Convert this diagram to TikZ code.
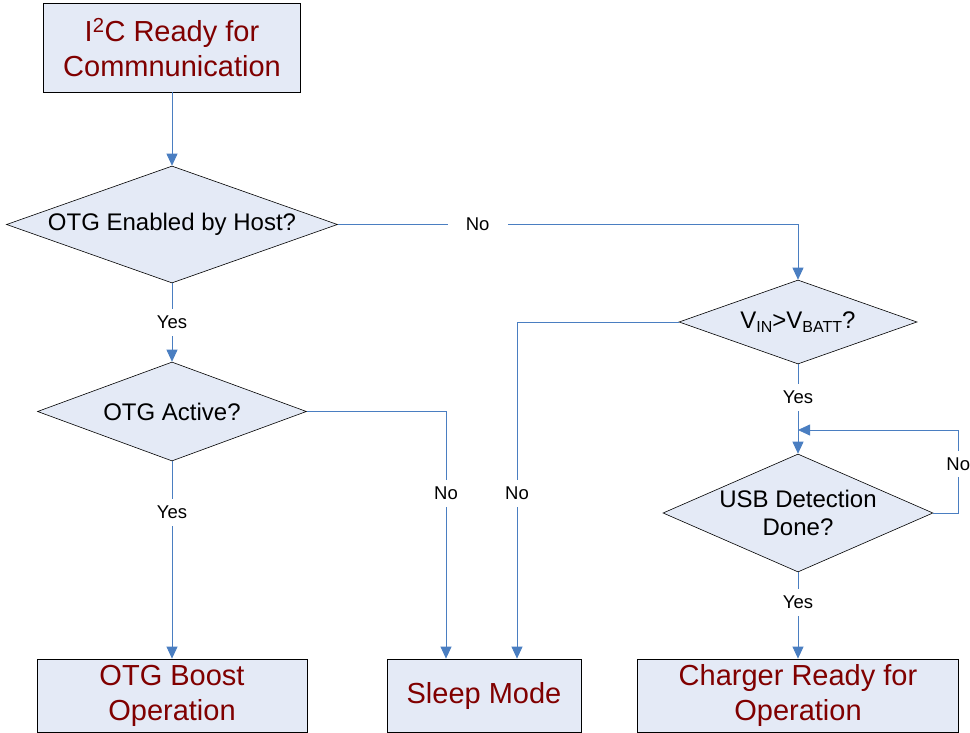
\documentclass[tikz,border=0pt]{standalone}
\usepackage{fontspec}
\setmainfont{Liberation Sans}
\usetikzlibrary{shapes.geometric,arrows.meta}
\definecolor{boxfill}{RGB}{228,234,246}
\definecolor{titlered}{RGB}{128,0,0}
\definecolor{lineblue}{RGB}{74,126,193}
\newcommand{\subsc}[1]{\raisebox{-0.3ex}{\fontsize{16}{16}\selectfont #1}}
\begin{document}
\begin{tikzpicture}[x=1pt,y=-1pt,
  procbox/.style={draw=black, line width=0.8pt, fill=boxfill, text=titlered,
    font=\fontsize{29}{35}\selectfont, align=center, inner sep=0pt},
  decbox/.style={draw=black, line width=0.6pt, fill=boxfill, diamond, inner sep=0pt},
  dtext/.style={font=\fontsize{24}{28}\selectfont, align=center, inner sep=0pt},
  conn/.style={draw=lineblue, line width=0.8pt, -{Triangle[length=12pt,width=11pt]}},
  lbl/.style={fill=white, font=\fontsize{18.5}{20}\selectfont, inner xsep=18pt, inner ysep=7pt}]
\useasboundingbox (0,0) rectangle (970,733);

\node[procbox, minimum width=257pt, minimum height=89pt] (i2c) at (172,47.5)
  {I\textsuperscript{2}C Ready for\\Commnunication};

\node[decbox, minimum width=331pt, minimum height=117pt,
  label={[dtext]center:OTG Enabled by Host?}] (d1) at (172,224.5) {};
\node[decbox, minimum width=269pt, minimum height=99pt,
  label={[dtext]center:OTG Active?}] (d2) at (172,411.5) {};
\node[decbox, minimum width=238pt, minimum height=84pt,
  label={[dtext]center:V\subsc{IN}>V\subsc{BATT}?}] (d3) at (798,322) {};
\node[decbox, minimum width=270pt, minimum height=118pt,
  label={[dtext]center:{USB Detection\\Done?}}] (d4) at (798,513) {};

\node[procbox, minimum width=270pt, minimum height=73pt] (otg) at (172,695.5)
  {OTG Boost\\Operation};
\node[procbox, minimum width=194pt, minimum height=73pt] (sleep) at (484,695.5)
  {Sleep Mode};
\node[procbox, minimum width=321pt, minimum height=73pt] (charger) at (798,695.5)
  {Charger Ready for\\Operation};

\coordinate (loopin) at (798,430);

\draw[conn] (i2c.south) -- (d1.north);
\draw[conn] (d1.south) -- node[lbl,pos=0.5]{Yes} (d2.north);
\draw[conn] (d2.south) -- node[lbl,pos=0.26]{Yes} (otg.north);
\draw[conn] (d1.east) -| node[lbl,pos=0.152]{No} (d3.north);
\draw[conn] (d2.east) -| node[lbl,pos=0.666]{No} ([xshift=-38pt]sleep.north);
\draw[conn] (d3.west) -| node[lbl,pos=0.755]{No} ([xshift=33pt]sleep.north);
\draw[conn] (d3.south) -- node[lbl,pos=0.367]{Yes} (d4.north);
\draw[conn] (d4.east) -- ++(25,0) -- node[lbl,pos=0.59]{No} ++(0,-83) -- (loopin);
\draw[conn] (d4.south) -- node[lbl,pos=0.345]{Yes} (charger.north);
\end{tikzpicture}
\end{document}
